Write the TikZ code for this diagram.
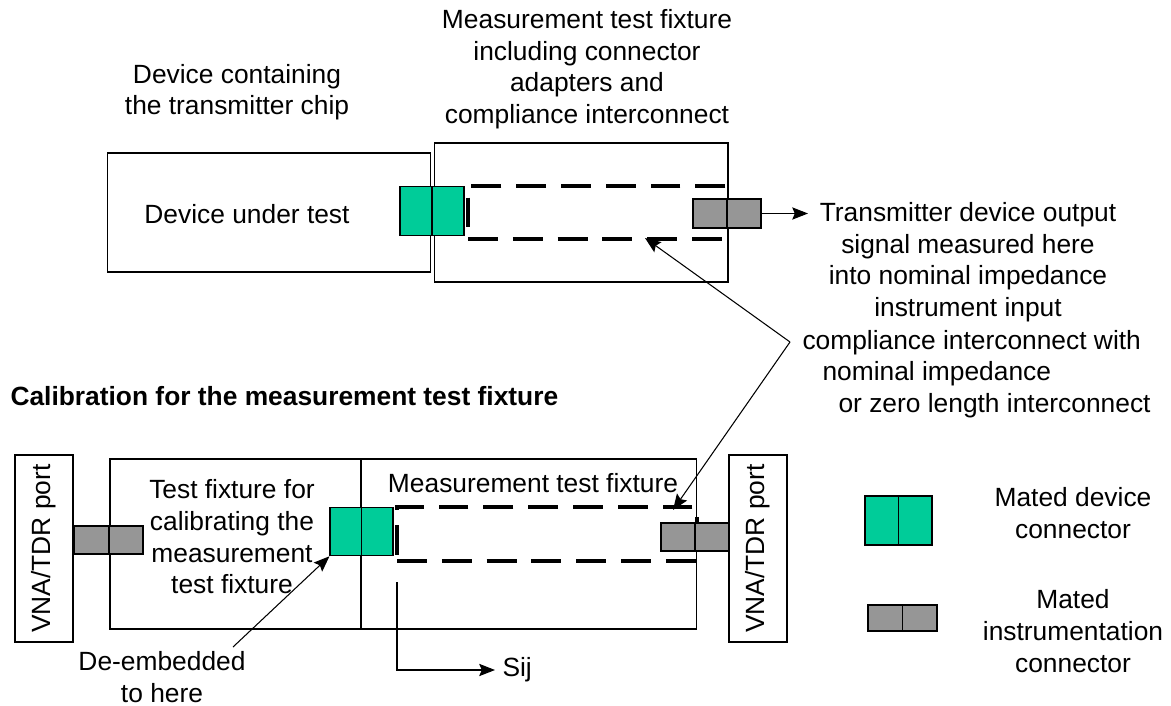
\documentclass[tikz,border=0pt]{standalone}
\usepackage{fontspec}
\setmainfont{Liberation Sans}
\usepackage{tikz}
\usetikzlibrary{arrows.meta,shapes}
\definecolor{devgreen}{RGB}{0,204,153}
\definecolor{instgray}{RGB}{150,150,150}

\begin{document}
\begin{tikzpicture}[->,>={Stealth[length=9pt,width=7pt,inset=1.5pt]},x=0.02cm,y=-0.02cm,semithick]
\tikzstyle{every node}=[font=\fontsize{15}{18}\selectfont,text=black]
\tikzstyle{frame}=[draw=black,inner sep=0pt]
\tikzstyle{devconn}=[draw=black,fill=devgreen,inner sep=0pt,minimum height=0.97cm]
\tikzstyle{instconn}=[draw=black,fill=instgray,inner sep=0pt,minimum height=0.56cm,minimum width=0.68cm]
\tikzstyle{channel}=[draw=black,inner sep=0pt,line width=2pt,dash pattern=on 17pt off 8.5pt]
\tikzstyle{label}=[align=center,inner sep=0pt]
\useasboundingbox (0,0) rectangle (1171,706);

% device and fixture, transmitter measurement
\node[frame,minimum width=6.48cm,minimum height=2.38cm] (dut) at (269,212.5) {};
\node[label] (dutname) at (247,214) {Device under test};
\node[frame,minimum width=5.88cm,minimum height=2.78cm] (fixA) at (581,212.5) {};
\node[channel,minimum width=5.18cm,minimum height=1.06cm] (chanA) at (597.5,212.5) {};
\node[devconn,minimum width=0.64cm] (devA1) at (416,211) {};
\node[devconn,minimum width=0.64cm] (devA2) at (448,211) {};
\node[instconn,minimum height=0.58cm] (instA1) at (710,213.5) {};
\node[instconn,minimum height=0.58cm] (instA2) at (744,213.5) {};
\coordinate (out) at (808,213.5);
\draw (instA2.east) -- (out);

\node[label] (dutnote) at (237,92) {Device containing\\the transmitter chip};
\node[label] (fixnote) at (587,69) {Measurement test fixture\\including connector\\adapters and\\compliance interconnect};
\node[label] (outnote) at (968,262) {Transmitter device output\\signal measured here\\into nominal impedance\\instrument input};

% compliance interconnect callout
\node[anchor=west,inner sep=0pt] (cmp1) at (802,343) {compliance interconnect with};
\node[anchor=west,inner sep=0pt] (cmp2) at (822,374) {nominal impedance};
\node[anchor=west,inner sep=0pt] (cmp3) at (838,406) {or zero length interconnect};
\coordinate (elbow) at (790,342);
\coordinate (tipA) at (645,238);
\coordinate (tipB) at (673,510);
\draw (elbow) -- (tipA);
\draw (elbow) -- (tipB);

\node[anchor=west,inner sep=0pt,font=\fontsize{15}{18}\selectfont\bfseries] (caltitle) at (10,396) {Calibration for the measurement test fixture};

% calibration set up
\node[frame,minimum width=1.16cm,minimum height=3.74cm] (vnaL) at (44,548.5) {};
\node[rotate=90,inner sep=0pt] (vnaLtext) at (vnaL) {VNA/TDR port};
\node[frame,minimum width=5.02cm,minimum height=3.4cm] (tfix) at (235.5,544) {};
\node[frame,minimum width=6.72cm,minimum height=3.4cm] (mfix) at (529,544) {};
\node[frame,minimum width=1.16cm,minimum height=3.74cm] (vnaR) at (758,548.5) {};
\node[rotate=90,inner sep=0pt] (vnaRtext) at (vnaR) {VNA/TDR port};
\node[channel,minimum width=6cm,minimum height=1.08cm] (chanB) at (547,534) {};
\node[instconn] (instL1) at (91.5,540) {};
\node[instconn] (instL2) at (126,540) {};
\node[devconn,minimum width=0.63cm] (devB1) at (345.75,531.5) {};
\node[devconn,minimum width=0.63cm] (devB2) at (377.25,531.5) {};
\node[instconn] (instR1) at (678,537) {};
\node[instconn] (instR2) at (712,537) {};

\node[label] (tfixtext) at (232,537) {Test fixture for\\calibrating the\\measurement\\test fixture};
\node[label] (mfixtext) at (533,483) {Measurement test fixture};

\node[label] (deemb) at (162,677) {De-embedded\\to here};
\coordinate (deembtail) at (233,647);
\draw (deembtail) -- (devB1.south west);

\coordinate (sijtop) at (397,582);
\coordinate (sijend) at (495,670);
\node[anchor=west,inner sep=0pt] (sij) at (502,670) {Sij};
\draw (sijtop) |- (sijend);

% legend
\node[devconn,minimum width=0.67cm,minimum height=0.98cm] (legdev1) at (881.75,520.5) {};
\node[devconn,minimum width=0.67cm,minimum height=0.98cm] (legdev2) at (915.25,520.5) {};
\node[label] (legdevtext) at (1073,513) {Mated device\\connector};
\node[instconn,minimum width=0.69cm,minimum height=0.52cm] (leginst1) at (885.25,618) {};
\node[instconn,minimum width=0.69cm,minimum height=0.52cm] (leginst2) at (919.75,618) {};
\node[label] (leginsttext) at (1073,631) {Mated\\instrumentation\\connector};
\end{tikzpicture}
\end{document}
